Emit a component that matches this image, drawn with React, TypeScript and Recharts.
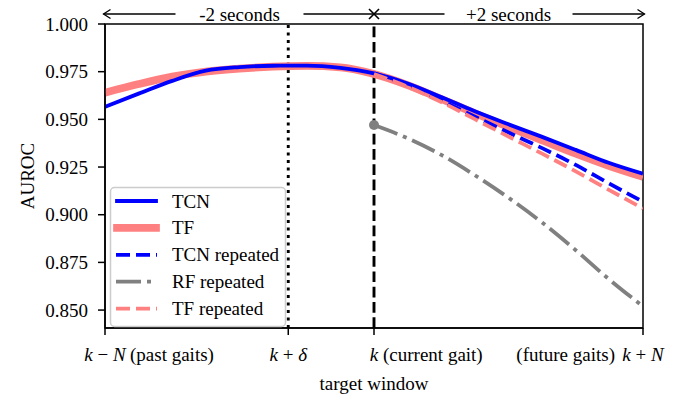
import React from "react";
import {
  Label,
  Line,
  LineChart,
  ReferenceArea,
  ReferenceDot,
  ReferenceLine,
  XAxis,
  YAxis,
} from "recharts";

// gait offsets relative to the current gait k (k - N ... k + N)
const GAITS = [-8, -7, -6, -5, -4, -3, -2, -1, 0, 1, 2, 3, 4, 5, 6, 7, 8];
const DELTA = -2.55;

const TCN = [
  0.9566, 0.9635, 0.9702, 0.9755, 0.9774, 0.9781, 0.9782, 0.977, 0.9741, 0.9688, 0.9617, 0.9542,
  0.9474, 0.9408, 0.934, 0.9271, 0.9215,
];
const TF = [
  0.964, 0.9685, 0.9724, 0.975, 0.9766, 0.9776, 0.978, 0.9773, 0.9738, 0.968, 0.9607, 0.9532,
  0.946, 0.939, 0.932, 0.9255, 0.9198,
];
// repeated predictions only exist from the current gait onwards
const TCN_REPEATED = [0.9741, 0.9678, 0.9599, 0.9514, 0.9431, 0.9349, 0.9261, 0.9163, 0.9068];
const RF_REPEATED = [0.947, 0.9401, 0.9314, 0.9207, 0.9089, 0.8959, 0.8814, 0.866, 0.852];
const TF_REPEATED = [0.9738, 0.9671, 0.9591, 0.9501, 0.941, 0.932, 0.9227, 0.9129, 0.9033];

const X_TICKS = [-8, DELTA, 0, 8];
const X_TICK_MATH = ["k−N", "k+δ", "k", "k+N"];
const X_TICK_NOTES = ["(past gaits)", "", "(current gait)", "(future gaits)"];
const Y_TICKS = [0.85, 0.875, 0.9, 0.925, 0.95, 0.975, 1.0];
const SPAN_LABELS = ["-2 seconds", "+2 seconds"];

const Y_MIN = 0.8406;
const Y_MAX = 1.0;
const ANN_Y = Y_MAX + ((Y_MAX - Y_MIN) * 10) / 304;

const FONT = '"Liberation Serif", "DejaVu Serif", serif';
const BLUE = "#0000ff";
const SALMON = "#ff8080";
const GRAY = "#808080";

const K_INDEX = GAITS.indexOf(0);
const data = GAITS.map((gait, i) => ({
  gait,
  tcn: TCN[i],
  tf: TF[i],
  tcnRep: i >= K_INDEX ? TCN_REPEATED[i - K_INDEX] : null,
  rfRep: i >= K_INDEX ? RF_REPEATED[i - K_INDEX] : null,
  tfRep: i >= K_INDEX ? TF_REPEATED[i - K_INDEX] : null,
}));

const SERIES = [
  { key: "tf", label: "TF", color: SALMON, width: 7.7, dash: undefined },
  { key: "tcn", label: "TCN", color: BLUE, width: 3.8, dash: undefined },
  { key: "tcnRep", label: "TCN repeated", color: BLUE, width: 3.8, dash: "14 6" },
  { key: "rfRep", label: "RF repeated", color: GRAY, width: 3.8, dash: "25 6 4 6" },
  { key: "tfRep", label: "TF repeated", color: SALMON, width: 3.8, dash: "14 6" },
] as const;
const LEGEND_ORDER = ["tcn", "tf", "tcnRep", "rfRep", "tfRep"];

const renderMath = (s: string) =>
  Array.from(s).map((c, i) =>
    /[A-Za-zδ]/.test(c) ? (
      <tspan key={i} fontStyle="italic">
        {c}
      </tspan>
    ) : (
      <tspan key={i} style={{ whiteSpace: "pre" }}>{` ${c} `}</tspan>
    )
  );

const NOTE_DX = [25, 0, 9, -28];

const XTick = (props: any) => {
  const { x, y, payload } = props;
  const i = X_TICKS.indexOf(payload.value);
  const note = X_TICK_NOTES[i];
  const baseY = y + 24;
  return (
    <g fontFamily={FONT} fontSize={19} fill="#000">
      <text x={x} y={baseY} textAnchor="middle" style={{ whiteSpace: "pre" }}>
        {renderMath(X_TICK_MATH[i])}
      </text>
      {note && (
        <text x={x + NOTE_DX[i]} y={baseY} textAnchor={NOTE_DX[i] < 0 ? "end" : "start"}>
          {note}
        </text>
      )}
    </g>
  );
};

const spanArrow = (text: string, cross: boolean) => (p: any) => {
  const { x1, y1, x2 } = p;
  const dir = Math.sign(x2 - x1);
  const mid = (x1 + x2) / 2;
  const gap = 64;
  const tip = x2 + dir * 1.5;
  return (
    <g stroke="#000" strokeWidth={1.3} fill="none">
      <line x1={x1} y1={y1} x2={mid - dir * gap} y2={y1} />
      <line x1={mid + dir * gap} y1={y1} x2={tip} y2={y1} />
      <polyline points={`${tip - dir * 7},${y1 - 4.5} ${tip},${y1} ${tip - dir * 7},${y1 + 4.5}`} />
      {cross && (
        <g strokeWidth={1.6}>
          <line x1={x1 - 5} y1={y1 - 5} x2={x1 + 5} y2={y1 + 5} />
          <line x1={x1 - 5} y1={y1 + 5} x2={x1 + 5} y2={y1 - 5} />
        </g>
      )}
      <text
        x={mid}
        y={y1}
        textAnchor="middle"
        dominantBaseline="central"
        fontFamily={FONT}
        fontSize={19}
        fill="#000"
        stroke="none"
      >
        {text}
      </text>
    </g>
  );
};

const ChartLegend = () => (
  <svg width={685} height={395} style={{ position: "absolute", left: 0, top: 0, pointerEvents: "none" }}>
    <rect
      x={110.5}
      y={187.5}
      width={175}
      height={139}
      rx={4}
      fill="#fff"
      fillOpacity={0.8}
      stroke="#cccccc"
      strokeWidth={1.5}
    />
    {LEGEND_ORDER.map((key, i) => {
      const s = SERIES.find((e) => e.key === key)!;
      const y = 201 + i * 26.9;
      return (
        <g key={key}>
          <line
            x1={s.dash ? 116 : 117}
            x2={s.dash ? 157 : 156}
            y1={y}
            y2={y}
            stroke={s.color}
            strokeWidth={s.width}
            strokeDasharray={s.dash}
            strokeLinecap={s.dash ? "butt" : "square"}
          />
          <text x={172} y={y} dominantBaseline="central" fontFamily={FONT} fontSize={19} fill="#000">
            {s.label}
          </text>
        </g>
      );
    })}
  </svg>
);

export default function App() {
  return (
    <div style={{ position: "absolute", left: 0, top: 0, width: 685, height: 395, background: "#fff" }}>
      <LineChart
        width={685}
        height={395}
        data={data}
        margin={{ top: 24, right: 42, bottom: 0, left: 0 }}
        style={{ fontFamily: FONT }}
      >
        <XAxis
          dataKey="gait"
          type="number"
          domain={[-8, 8]}
          ticks={X_TICKS}
          allowDataOverflow
          height={67}
          tickSize={7}
          axisLine={{ stroke: "#000", strokeWidth: 1.5 }}
          tickLine={{ stroke: "#000", strokeWidth: 1.5 }}
          tick={<XTick />}
          interval={0}
        >
          <Label
            value="target window"
            position="insideBottom"
            offset={5}
            style={{ fontFamily: FONT, fontSize: 19, fill: "#000" }}
          />
        </XAxis>
        <YAxis
          type="number"
          domain={[Y_MIN, Y_MAX]}
          ticks={Y_TICKS}
          allowDataOverflow
          width={105}
          tickSize={7}
          tickMargin={10}
          tickFormatter={(v: number) => v.toFixed(3)}
          axisLine={{ stroke: "#000", strokeWidth: 1.5 }}
          tickLine={{ stroke: "#000", strokeWidth: 1.5 }}
          tick={{ fill: "#000", fontSize: 19, fontFamily: FONT }}
        >
          <Label
            value="AUROC"
            angle={-90}
            position="insideLeft"
            offset={27}
            style={{ textAnchor: "middle", fontFamily: FONT, fontSize: 19, fill: "#000" }}
          />
        </YAxis>
        <ReferenceLine x={DELTA} stroke="#000" strokeWidth={2.9} strokeDasharray="2.9 4.6" />
        <ReferenceLine x={0} stroke="#000" strokeWidth={2.9} strokeDasharray="10.7 4.6" />
        {SERIES.map((s) => (
          <Line
            key={s.key}
            type="monotone"
            dataKey={s.key}
            name={s.label}
            stroke={s.color}
            strokeWidth={s.width}
            strokeDasharray={s.dash}
            dot={false}
            activeDot={false}
            connectNulls={false}
            isAnimationActive={false}
          />
        ))}
        <ReferenceDot x={0} y={RF_REPEATED[0]} r={5} fill={GRAY} stroke="none" />
        <ReferenceArea
          x1={-8}
          x2={8}
          y1={Y_MIN}
          y2={Y_MAX}
          fill="none"
          fillOpacity={0}
          stroke="#000"
          strokeWidth={1.5}
          ifOverflow="visible"
        />
        <ReferenceLine
          segment={[
            { x: 0, y: ANN_Y },
            { x: -8, y: ANN_Y },
          ]}
          ifOverflow="visible"
          shape={spanArrow(SPAN_LABELS[0], false)}
        />
        <ReferenceLine
          segment={[
            { x: 0, y: ANN_Y },
            { x: 8, y: ANN_Y },
          ]}
          ifOverflow="visible"
          shape={spanArrow(SPAN_LABELS[1], true)}
        />
      </LineChart>
      <ChartLegend />
    </div>
  );
}
